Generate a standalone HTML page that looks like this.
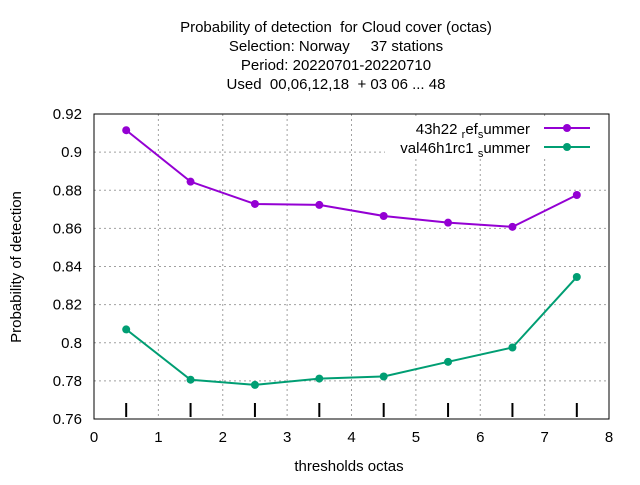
<!DOCTYPE html>
<html><head><meta charset="utf-8"><style>
body{margin:0;background:#fff;}
svg text{font-family:"Liberation Sans",sans-serif;fill:#000;white-space:pre;}
</style></head><body>
<svg id="chart" width="640" height="480" xmlns="http://www.w3.org/2000/svg" xml:space="preserve">
<g font-size="15" text-anchor="middle">
<text x="336" y="32">Probability of detection  for Cloud cover (octas)</text>
<text x="336" y="51">Selection: Norway     37 stations</text>
<text x="336" y="70">Period: 20220701-20220710</text>
<text x="336" y="89">Used  00,06,12,18  + 03 06 ... 48</text>
</g>
<g id="grid"></g>
<g id="axes"></g>
<g id="series"></g>
<text x="349" y="471" font-size="15" text-anchor="middle">thresholds octas</text>
<text transform="translate(21,267) rotate(-90)" font-size="15" text-anchor="middle">Probability of detection</text>
<g>
<rect x="385" y="116" width="222" height="42" fill="#fff"/>
<text x="530" y="134" font-size="15" text-anchor="end">43h22 <tspan font-size="11" dy="4">r</tspan><tspan dy="-4">ef</tspan><tspan font-size="11" dy="4">s</tspan><tspan dy="-4">ummer</tspan></text>
<line x1="544" y1="128" x2="590" y2="128" stroke="#9400d3" stroke-width="2"/>
<circle cx="567" cy="128" r="4" fill="#9400d3"/>
<text x="530" y="153" font-size="15" text-anchor="end">val46h1rc1 <tspan font-size="11" dy="4">s</tspan><tspan dy="-4">ummer</tspan></text>
<line x1="544" y1="147" x2="590" y2="147" stroke="#009e73" stroke-width="2"/>
<circle cx="567" cy="147" r="4" fill="#009e73"/>
</g>
</svg>
<script>
const xCats=[0.5,1.5,2.5,3.5,4.5,5.5,6.5,7.5];
const refSummer=[0.9115,0.8845,0.8728,0.8723,0.8665,0.863,0.8608,0.8775];
const valSummer=[0.807,0.7806,0.7779,0.7812,0.7823,0.790,0.7975,0.8345];
const xTicks=[0,1,2,3,4,5,6,7,8];
const yTicks=[0.76,0.78,0.8,0.82,0.84,0.86,0.88,0.9,0.92];
const yTickLabels=["0.76","0.78","0.8","0.82","0.84","0.86","0.88","0.9","0.92"];
const L=94,R=609,T=114,B=419;
const xs=v=>L+(v-0)/8*(R-L);
const ys=v=>B-(v-0.76)/0.16*(B-T);
const NS="http://www.w3.org/2000/svg";
function mk(p,t,a){const e=document.createElementNS(NS,t);for(const k in a)e.setAttribute(k,a[k]);p.appendChild(e);return e;}
const grid=document.getElementById('grid'),axes=document.getElementById('axes'),ser=document.getElementById('series');
xTicks.forEach(v=>{
 if(v>0&&v<8){const g=mk(grid,'line',{x1:xs(v),x2:xs(v),y1:T,y2:B,stroke:'#a0a0a0','stroke-dasharray':'2,3'});
 
 }
 const t=mk(axes,'text',{x:xs(v),y:B+23,'font-size':15,'text-anchor':'middle'});t.textContent=v;
 
 
});
yTicks.forEach((v,i)=>{
 if(i>0&&i<yTicks.length-1){const g=mk(grid,'line',{x1:L,x2:R,y1:ys(v),y2:ys(v),stroke:'#a0a0a0','stroke-dasharray':'2,3'});
 
 }
 const t=mk(axes,'text',{x:L-12,y:ys(v)+5,'font-size':15,'text-anchor':'end'});t.textContent=yTickLabels[i];
 
 
});
const fr=mk(axes,'rect',{x:L,y:T,width:R-L,height:B-T,fill:'none',stroke:'#000','stroke-width':1});


xCats.forEach(v=>{const m=mk(axes,'line',{x1:xs(v),x2:xs(v),y1:B-16,y2:B-2,stroke:'#000','stroke-width':2});
 
 });
function draw(vals,col,name){
 const pl=mk(ser,'polyline',{points:vals.map((v,i)=>xs(xCats[i])+','+ys(v)).join(' '),fill:'none',stroke:col,'stroke-width':2});
 
 
 vals.forEach((v,i)=>{const c=mk(ser,'circle',{cx:xs(xCats[i]),cy:ys(v),r:4,fill:col});
 
 });
}
draw(refSummer,'#9400d3','ref-summer');
draw(valSummer,'#009e73','val-summer');
</script>
</body></html>
